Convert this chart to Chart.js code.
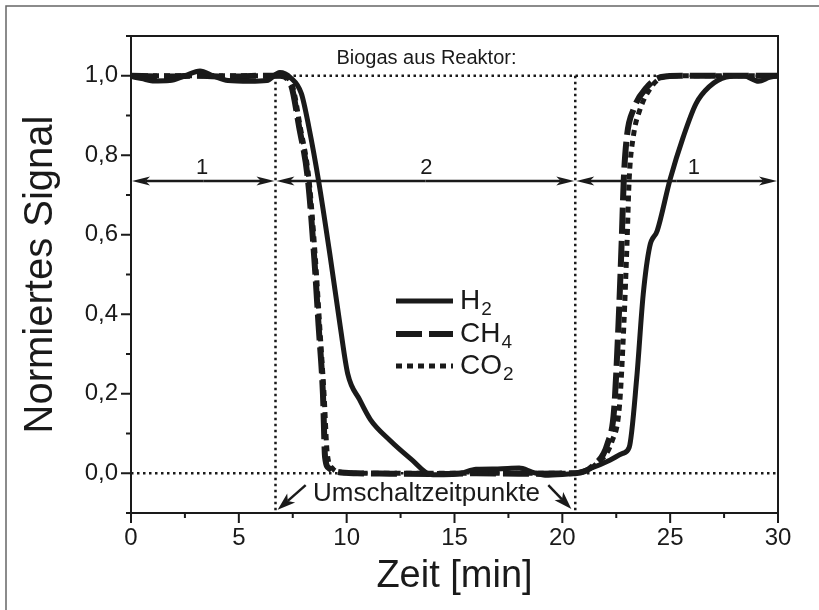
<!DOCTYPE html>
<html>
<head>
<meta charset="utf-8">
<script src="https://cdn.jsdelivr.net/npm/chart.js@4.4.1/dist/chart.umd.min.js"></script>
<style>
  html,body{margin:0;padding:0;background:#fff;}
  #wrap{width:819px;height:610px;}
</style>
</head>
<body>
<div id="wrap"><canvas id="c" width="819" height="610"></canvas></div>
<script>
// normalised gas signals over time (min)
const h2Time   = [0, 0.5, 1.0, 1.8, 2.5, 3.2, 3.8, 4.5, 5.5, 6.3, 6.9, 7.4, 7.9, 8.25, 8.7, 9.25, 9.7, 10.05, 10.6, 11.1, 12.0, 13.0, 13.9, 14.5, 15.3, 16.0, 17.0, 18.0, 18.6, 19.2, 20.0, 20.6, 21.3, 22.2, 22.8, 23.1, 23.45, 23.75, 24.05, 24.4, 25.0, 25.6, 26.2, 26.8, 27.6, 28.4, 29.1, 29.6, 30.0];
const h2Signal = [0.998, 0.993, 0.987, 0.988, 1.0, 1.012, 1.0, 0.988, 0.986, 0.988, 1.008, 0.995, 0.955, 0.87, 0.735, 0.54, 0.37, 0.25, 0.185, 0.135, 0.083, 0.035, -0.003, -0.004, 0.0, 0.01, 0.011, 0.013, 0.003, -0.005, -0.003, 0.0, 0.012, 0.033, 0.05, 0.065, 0.24, 0.45, 0.57, 0.61, 0.74, 0.845, 0.93, 0.972, 0.997, 1.0, 0.986, 0.996, 1.0];

const ch4Time   = [0, 1.5, 3, 4.5, 6, 6.9, 7.4, 7.8, 8.2, 8.5, 8.7, 8.9, 9.0, 9.2, 9.6, 10.5, 12, 14, 16, 18, 20.6, 21.45, 22.1, 22.4, 22.6, 22.75, 22.85, 23.0, 23.3, 23.9, 24.6, 25.5, 27, 28.5, 30];
const ch4Signal = [1.0, 0.998, 1.0, 0.998, 1.0, 1.0, 0.98, 0.87, 0.74, 0.54, 0.37, 0.2, 0.04, 0.012, 0.003, 0.0, -0.001, -0.002, 0.0, -0.001, 0.0, 0.02, 0.075, 0.16, 0.37, 0.58, 0.74, 0.85, 0.915, 0.97, 0.997, 1.0, 1.0, 1.0, 1.0];

const co2Time   = [0, 3, 6, 6.95, 7.45, 7.85, 8.25, 8.55, 8.75, 8.95, 9.1, 9.35, 9.8, 11, 14, 17, 20.6, 21.6, 22.3, 22.65, 22.85, 23.0, 23.1, 23.3, 23.6, 24.1, 24.6, 25.3, 27, 30];
const co2Signal = [1.0, 1.0, 1.0, 1.0, 0.98, 0.87, 0.74, 0.54, 0.37, 0.2, 0.05, 0.012, 0.002, 0.0, 0.0, 0.0, 0.0, 0.025, 0.08, 0.17, 0.37, 0.58, 0.74, 0.85, 0.915, 0.97, 0.995, 1.0, 1.0, 1.0];

const xTicks = [0, 5, 10, 15, 20, 25, 30];
const yTicks = [0, 0.2, 0.4, 0.6, 0.8, 1.0];

// switching points and phases (1 = Biogas, 2 = other gas)
const switchTimes = [6.7, 20.6];
const phaseStart  = [0, 6.7, 20.6];
const phaseEnd    = [6.7, 20.6, 30];
const phaseLabels = ['1', '2', '1'];
const phaseLabelX = [3.3, 13.7, 26.1];
const phaseLevel  = 0.735;

const seriesNames = [['H', '2'], ['CH', '4'], ['CO', '2']];

const FONT = '"Liberation Sans", Arial, sans-serif';
const INK = '#1a1a1a';

function pairs(xs, ys){ return xs.map((x, i) => ({x, y: ys[i]})); }

function arrowHead(ctx, x1, y1, x2, y2, len, half){
  const a = Math.atan2(y2 - y1, x2 - x1);
  const c = Math.cos(a), s = Math.sin(a);
  const bx = x2 - c * len, by = y2 - s * len;
  const nx = x2 - c * len * 0.75, ny = y2 - s * len * 0.75;
  ctx.beginPath();
  ctx.moveTo(x1, y1);
  ctx.lineTo(nx, ny);
  ctx.stroke();
  ctx.beginPath();
  ctx.moveTo(x2, y2);
  ctx.lineTo(bx - s * half, by + c * half);
  ctx.lineTo(nx, ny);
  ctx.lineTo(bx + s * half, by - c * half);
  ctx.closePath();
  ctx.fill();
}

function subText(ctx, x, y, main, sub, size, subSize){
  ctx.font = size + 'px ' + FONT;
  ctx.fillText(main, x, y);
  const w = ctx.measureText(main).width;
  ctx.font = subSize + 'px ' + FONT;
  ctx.fillText(sub, x + w + 1, y + size * 0.3);
}

const figure = {
  id: 'figure',
  beforeDraw(chart){
    const ctx = chart.ctx;
    ctx.save();
    ctx.fillStyle = '#fff';
    ctx.fillRect(0, 0, chart.width, chart.height);
    ctx.strokeStyle = '#666';
    ctx.lineWidth = 1.5;
    ctx.beginPath();
    ctx.moveTo(6, chart.height);
    ctx.lineTo(6, 6);
    ctx.lineTo(chart.width, 6);
    ctx.stroke();
    ctx.restore();
  },
  beforeDatasetsDraw(chart){
    const {ctx, chartArea: a, scales: {x, y}} = chart;
    ctx.save();
    ctx.strokeStyle = INK;
    ctx.lineWidth = 2.5;
    ctx.setLineDash([2.5, 3.5]);
    ctx.beginPath();
    ctx.moveTo(a.left, y.getPixelForValue(0));
    ctx.lineTo(a.right, y.getPixelForValue(0));
    ctx.moveTo(x.getPixelForValue(switchTimes[0]), y.getPixelForValue(1));
    ctx.lineTo(a.right, y.getPixelForValue(1));
    switchTimes.forEach(t => {
      const px = x.getPixelForValue(t);
      ctx.moveTo(px, y.getPixelForValue(1));
      ctx.lineTo(px, a.bottom);
    });
    ctx.stroke();
    ctx.restore();
  },
  afterDatasetsDraw(chart){
    const {ctx, chartArea: a, scales: {x, y}} = chart;
    ctx.save();
    ctx.strokeStyle = INK;
    ctx.fillStyle = INK;

    // frame
    ctx.lineWidth = 2;
    ctx.strokeRect(a.left, a.top, a.right - a.left, a.bottom - a.top);

    // tick marks, major and minor, pointing out
    ctx.beginPath();
    for(let v = 0; v <= 30.001; v += 2.5){
      const px = x.getPixelForValue(v);
      const major = Math.abs(v % 5) < 0.01;
      ctx.moveTo(px, a.bottom);
      ctx.lineTo(px, a.bottom + (major ? 10 : 5));
    }
    for(let k = -1; k <= 11; k++){
      const py = y.getPixelForValue(k / 10);
      const major = k >= 0 && k % 2 === 0;
      ctx.moveTo(a.left, py);
      ctx.lineTo(a.left - (major ? 10 : 5), py);
    }
    ctx.stroke();

    // phase arrows
    ctx.lineWidth = 2.5;
    const py = y.getPixelForValue(phaseLevel);
    ctx.font = '22px ' + FONT;
    ctx.textAlign = 'center';
    ctx.textBaseline = 'alphabetic';
    phaseStart.forEach((t0, i) => {
      const p0 = x.getPixelForValue(t0) + 1, p1 = x.getPixelForValue(phaseEnd[i]) - 1;
      const mid = (p0 + p1) / 2;
      arrowHead(ctx, mid, py, p0, py, 18, 4.5);
      arrowHead(ctx, mid, py, p1, py, 18, 4.5);
      ctx.fillText(phaseLabels[i], x.getPixelForValue(phaseLabelX[i]), py - 7);
    });

    // header text
    ctx.font = '20px ' + FONT;
    ctx.fillText('Biogas aus Reaktor:', x.getPixelForValue(13.7), y.getPixelForValue(1.048) + 7);

    // switching points
    ctx.font = '26px ' + FONT;
    ctx.fillText('Umschaltzeitpunkte', x.getPixelForValue(13.7), y.getPixelForValue(-0.048) + 9);
    ctx.lineWidth = 2.5;
    arrowHead(ctx, x.getPixelForValue(8.1), y.getPixelForValue(-0.03), x.getPixelForValue(6.8), y.getPixelForValue(-0.092), 18, 6);
    arrowHead(ctx, x.getPixelForValue(19.35), y.getPixelForValue(-0.03), x.getPixelForValue(20.42), y.getPixelForValue(-0.09), 18, 6);

    // legend
    const rows = [301, 334, 366];
    chart.data.datasets.forEach((ds, i) => {
      ctx.save();
      ctx.lineWidth = ds.borderWidth;
      ctx.setLineDash(ds.borderDash || []);
      ctx.lineCap = 'butt';
      ctx.beginPath();
      ctx.moveTo(396, rows[i]);
      ctx.lineTo(453, rows[i]);
      ctx.stroke();
      ctx.restore();
      ctx.textAlign = 'left';
      ctx.textBaseline = 'middle';
      subText(ctx, 460, rows[i], seriesNames[i][0], seriesNames[i][1], 28, 19);
    });

    // axis titles
    ctx.textAlign = 'center';
    ctx.textBaseline = 'alphabetic';
    ctx.font = '38px ' + FONT;
    ctx.fillText('Zeit [min]', (a.left + a.right) / 2, 587);
    ctx.save();
    ctx.font = '40px ' + FONT;
    ctx.translate(52, (a.top + a.bottom) / 2);
    ctx.rotate(-Math.PI / 2);
    ctx.fillText('Normiertes Signal', 0, 0);
    ctx.restore();

    ctx.restore();
  }
};

const lineStyle = {showLine: true, pointRadius: 0, borderColor: INK, cubicInterpolationMode: 'monotone', borderCapStyle: 'butt', borderJoinStyle: 'round'};

new Chart(document.getElementById('c'), {
  type: 'scatter',
  data: {
    datasets: [
      {...lineStyle, label: 'H2',  data: pairs(h2Time, h2Signal),   borderWidth: 5, borderDash: [], order: 1},
      {...lineStyle, label: 'CH4', data: pairs(ch4Time, ch4Signal), borderWidth: 6, borderDash: [26, 7], order: 3},
      {...lineStyle, label: 'CO2', data: pairs(co2Time, co2Signal), borderWidth: 5, borderDash: [6, 5], order: 2}
    ]
  },
  options: {
    responsive: false,
    animation: false,
    devicePixelRatio: 1,
    layout: {padding: {top: 36, right: 41, left: 0, bottom: 0}},
    plugins: {legend: {display: false}, tooltip: {enabled: false}},
    scales: {
      x: {
        type: 'linear', min: 0, max: 30,
        grid: {display: false, drawTicks: false},
        border: {display: false},
        afterBuildTicks: s => { s.ticks = xTicks.map(v => ({value: v})); },
        afterFit: s => { s.height = 97; },
        ticks: {color: INK, padding: 11, maxRotation: 0, font: {family: FONT, size: 24}, callback: v => String(v)}
      },
      y: {
        type: 'linear', min: -0.1, max: 1.1,
        grid: {display: false, drawTicks: false},
        border: {display: false},
        afterBuildTicks: s => { s.ticks = yTicks.map(v => ({value: v})); },
        afterFit: s => { s.width = 131; },
        ticks: {color: INK, padding: 13, font: {family: FONT, size: 24}, callback: v => v.toFixed(1).replace('.', ',')}
      }
    }
  },
  plugins: [figure]
});
</script>
</body>
</html>
